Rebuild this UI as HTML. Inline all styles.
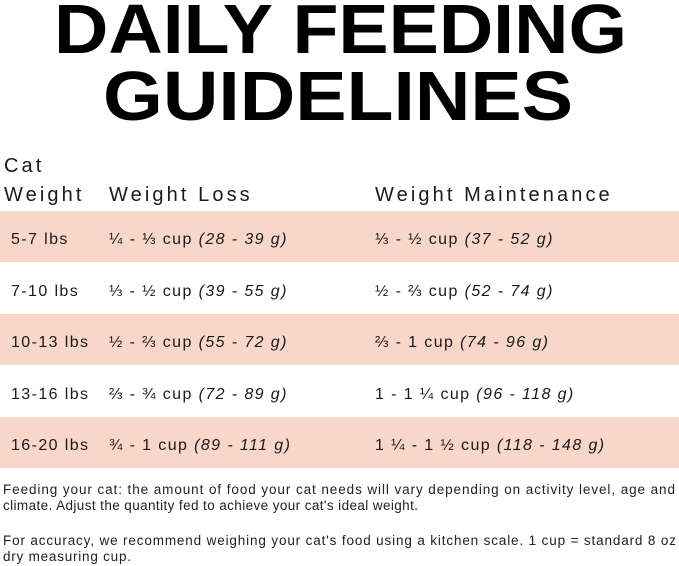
<!DOCTYPE html>
<html><head><meta charset="utf-8"><style>
html,body{margin:0;padding:0;background:#fff;width:679px;height:566px;overflow:hidden}
svg{display:block}
text{font-family:"Liberation Sans",sans-serif;fill:#1a1a1a}
.h{font-size:20px;letter-spacing:3.1px}
.r{font-size:16px;letter-spacing:1.4px}
.f{font-size:13.5px;fill:#222}
.t{font-size:70px;font-weight:bold;fill:#000}
</style></head><body>
<svg width="679" height="566" viewBox="0 0 679 566">
<text class="t" x="54" y="53" textLength="573" lengthAdjust="spacingAndGlyphs">DAILY FEEDING</text>
<text class="t" x="103" y="120" textLength="470" lengthAdjust="spacingAndGlyphs">GUIDELINES</text>
<rect x="0" y="211" width="679" height="51" fill="#f9d6ca"/>
<rect x="0" y="314" width="679" height="51" fill="#f9d6ca"/>
<rect x="0" y="417" width="679" height="51" fill="#f9d6ca"/>
<text class="h" x="4" y="172">Cat</text>
<text class="h" x="4" y="201">Weight</text>
<text class="h" x="109" y="201">Weight Loss</text>
<text class="h" x="375" y="201">Weight Maintenance</text>
<text class="r" x="11" y="244">5-7 lbs</text>
<text class="r" x="109" y="244">¼ - ⅓ cup <tspan font-style="italic">(28 - 39 g)</tspan></text>
<text class="r" x="375" y="244">⅓ - ½ cup <tspan font-style="italic">(37 - 52 g)</tspan></text>
<text class="r" x="11" y="296">7-10 lbs</text>
<text class="r" x="109" y="296">⅓ - ½ cup <tspan font-style="italic">(39 - 55 g)</tspan></text>
<text class="r" x="375" y="296">½ - ⅔ cup <tspan font-style="italic">(52 - 74 g)</tspan></text>
<text class="r" x="11" y="347">10-13 lbs</text>
<text class="r" x="109" y="347">½ - ⅔ cup <tspan font-style="italic">(55 - 72 g)</tspan></text>
<text class="r" x="375" y="347">⅔ - 1 cup <tspan font-style="italic">(74 - 96 g)</tspan></text>
<text class="r" x="11" y="399">13-16 lbs</text>
<text class="r" x="109" y="399">⅔ - ¾ cup <tspan font-style="italic">(72 - 89 g)</tspan></text>
<text class="r" x="375" y="399">1 - 1 ¼ cup <tspan font-style="italic">(96 - 118 g)</tspan></text>
<text class="r" x="11" y="450">16-20 lbs</text>
<text class="r" x="109" y="450">¾ - 1 cup <tspan font-style="italic">(89 - 111 g)</tspan></text>
<text class="r" x="375" y="450">1 ¼ - 1 ½ cup <tspan font-style="italic">(118 - 148 g)</tspan></text>
<text class="f" x="3" y="494" textLength="672" lengthAdjust="spacing">Feeding your cat: the amount of food your cat needs will vary depending on activity level, age and</text>
<text class="f" x="3" y="510" textLength="415" lengthAdjust="spacing">climate. Adjust the quantity fed to achieve your cat's ideal weight.</text>
<text class="f" x="3" y="545" textLength="673" lengthAdjust="spacing">For accuracy, we recommend weighing your cat's food using a kitchen scale. 1 cup = standard 8 oz</text>
<text class="f" x="3" y="561" textLength="128" lengthAdjust="spacing">dry measuring cup.</text>
</svg>
</body></html>
